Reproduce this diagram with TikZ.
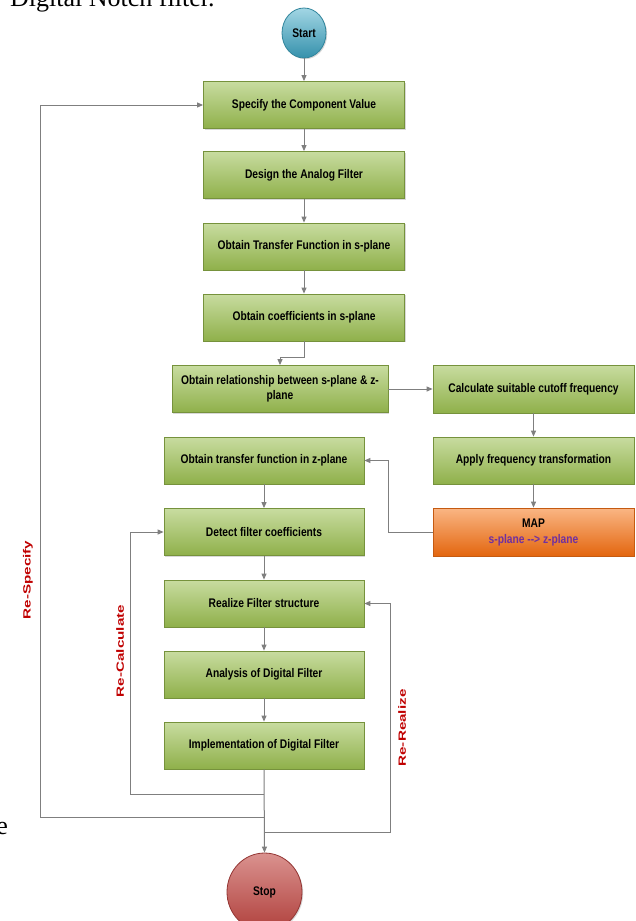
\documentclass[tikz,border=0pt]{standalone}
\usepackage{fontspec}
\setmainfont{Liberation Sans}
\newfontfamily\boxfont{Liberation Sans}[FakeStretch=0.82]
\newfontfamily\labfont{Liberation Sans}[FakeStretch=1.45]
\newfontfamily\seriffont{Liberation Serif}
\usetikzlibrary{arrows.meta,shadows,shapes.geometric}
\definecolor{gtop}{HTML}{C8DCA0}
\definecolor{gbot}{HTML}{8FB04A}
\definecolor{gborder}{HTML}{76923C}
\definecolor{otop}{HTML}{FAB684}
\definecolor{obot}{HTML}{E3660F}
\definecolor{oborder}{HTML}{C55A11}
\definecolor{btop}{HTML}{A2D6E4}
\definecolor{bbot}{HTML}{3591AC}
\definecolor{bborder}{HTML}{31859C}
\definecolor{rtop}{HTML}{DA928F}
\definecolor{rbot}{HTML}{B0403C}
\definecolor{rborder}{HTML}{943634}
\definecolor{lc}{HTML}{7F7F7F}
\definecolor{labred}{HTML}{C00000}
\definecolor{mappurple}{HTML}{7030A0}
\tikzset{
  shad/.style={drop shadow={shadow xshift=1.2pt,shadow yshift=-1.2pt,opacity=0.3}},
  txt/.style={font=\boxfont\bfseries\fontsize{12.5}{15}\selectfont},
  gbox/.style={shad,txt,draw=gborder,line width=0.8pt,top color=gtop,bottom color=gbot,
    minimum width=201pt,minimum height=47pt,align=center,inner sep=2pt},
  obox/.style={shad,txt,draw=oborder,line width=0.8pt,top color=otop,bottom color=obot,
    minimum width=201pt,minimum height=48pt,align=center,inner sep=2pt},
  startnode/.style={shad,txt,ellipse,draw=bborder,line width=0.8pt,top color=btop,bottom color=bbot,
    minimum width=44pt,minimum height=50pt,inner sep=0pt},
  stopnode/.style={shad,txt,ellipse,draw=rborder,line width=0.8pt,top color=rtop,bottom color=rbot,
    minimum width=75pt,minimum height=78pt,inner sep=0pt},
  arr/.style={draw=lc,line width=1pt,-{Triangle[length=6pt,width=5pt]}},
  lab/.style={font=\labfont\bfseries\fontsize{10.5}{12}\selectfont,text=labred,inner sep=0pt}
}
\begin{document}
\begin{tikzpicture}[x=1pt,y=-1pt]
\fill[white] (0,0) rectangle (635,921);
\useasboundingbox (0,0) rectangle (635,921);
% page fragments
\node[anchor=base west,inner sep=0pt,font=\seriffont\fontsize{26}{30}\selectfont] (title) at (10,6) {Digital Notch filter.};
\node[anchor=base east,inner sep=0pt,font=\seriffont\fontsize{26}{30}\selectfont] (efrag) at (8,834) {e};
% nodes
\node[startnode] (start) at (304,33) {Start};
\node[gbox] (b1) at (304,105) {Specify the Component Value};
\node[gbox] (b2) at (304,175) {Design the Analog Filter};
\node[gbox] (b3) at (304,246.5) {Obtain Transfer Function in s-plane};
\node[gbox] (b4) at (304,317.5) {Obtain coefficients in s-plane};
\node[gbox,minimum width=216pt] (b5) at (280,389) {Obtain relationship between s-plane \& z-\\plane};
\node[gbox,minimum height=48pt] (r1) at (533.5,389) {Calculate suitable cutoff frequency};
\node[gbox] (r2) at (533.5,460.5) {Apply frequency transformation};
\node[obox] (map) at (533.5,532) {MAP\\[1pt]{\color{mappurple}s-plane -\kern0pt-\kern0pt> z-plane}};
\node[gbox,minimum width=200pt] (b6) at (264,460.5) {Obtain transfer function in z-plane};
\node[gbox,minimum width=200pt] (b7) at (264,532) {Detect filter coefficients};
\node[gbox,minimum width=200pt] (b8) at (264,603.5) {Realize Filter structure};
\node[gbox,minimum width=200pt] (b9) at (264,674.5) {Analysis of Digital Filter};
\node[gbox,minimum width=200pt] (b10) at (264,745.5) {Implementation of Digital Filter};
\node[stopnode] (stop) at (264.5,892) {Stop};
% connectors
\draw[arr] (start) -- (b1);
\draw[arr] (b1) -- (b2);
\draw[arr] (b2) -- (b3);
\draw[arr] (b3) -- (b4);
\draw[arr] (b4.south) -- ++(0,16) -| (b5.north);
\draw[arr] (b5.east) -- (r1.west);
\draw[arr] (r1) -- (r2);
\draw[arr] (r2) -- (map);
\draw[arr] (map.west) -- ++(-44,0) |- (b6.east);
\draw[arr] (b6) -- (b7);
\draw[arr] (b7) -- (b8);
\draw[arr] (b8) -- (b9);
\draw[arr] (b9) -- (b10);
\draw[arr] (b10.south) -- (stop.north);
\coordinate (jc) at (264,794);
\coordinate (js) at (264,817);
\coordinate (jr) at (264,832);
\draw[arr] (jc) -- ++(-134,0) |- (b7.west);
\draw[arr] (js) -- ++(-224,0) |- (b1.west);
\draw[arr] (jr) -- ++(126,0) |- (b8.east);
% loop labels
\node[lab,rotate=90] (lspec) at (28,580) {Re-Specify};
\node[lab,rotate=90] (lcalc) at (120,651) {Re-Calculate};
\node[lab,rotate=90] (lreal) at (402,728) {Re-Realize};
\end{tikzpicture}
\end{document}
